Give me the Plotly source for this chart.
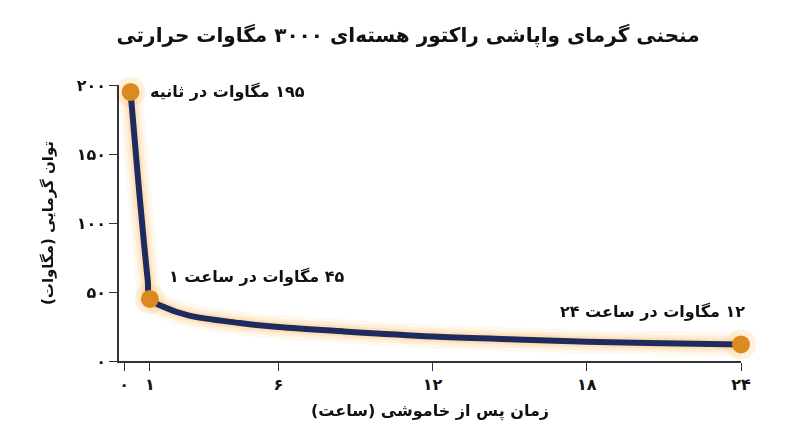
import plotly.graph_objects as go

# hours after shutdown vs decay heat (MW)
hours = [0.25, 0.55, 0.8, 0.92, 1, 1.5, 2.5, 4.5, 6, 8.5, 12, 15, 18, 21, 24]
power = [195, 130, 80, 58, 45, 39.5, 33, 27.5, 24.6, 21.5, 17.8, 15.8, 14, 12.9, 12]

# the three labelled points
mark_hours = [0.25, 1, 24]
mark_power = [195, 45, 12]
mark_labels = ["۱۹۵ مگاوات در ثانیه", "۴۵ مگاوات در ساعت ۱", "۱۲ مگاوات در ساعت ۲۴"]

x_ticks = [0, 1, 6, 12, 18, 24]
x_tick_text = ["۰", "۱", "۶", "۱۲", "۱۸", "۲۴"]
y_ticks = [0, 50, 100, 150, 200]
y_tick_text = ["۰", "۵۰", "۱۰۰", "۱۵۰", "۲۰۰"]

title_text = "منحنی گرمای واپاشی راکتور هسته‌ای ۳۰۰۰ مگاوات حرارتی"
x_title = "زمان پس از خاموشی (ساعت)"
y_title = "توان گرمایی (مگاوات)"

FONT = "DejaVu Sans"
NAVY = "#1d2b5e"
ORANGE = "#db8a22"


def rtl(s):
    # right-to-left embedding so numbers and brackets land where they should
    return "\u202b" + s + "\u202c"


fig = go.Figure()

# soft orange glow under the curve
for w, op in [(24, 0.08), (17, 0.12), (11, 0.22)]:
    fig.add_trace(go.Scatter(x=hours, y=power, mode="lines", line_shape="spline",
                             line=dict(color="#ffb347", width=w), opacity=op,
                             hoverinfo="skip", showlegend=False, cliponaxis=False))
fig.add_trace(go.Scatter(x=mark_hours, y=mark_power, mode="markers",
                         marker=dict(color="#ffc46b", size=30), opacity=0.25,
                         hoverinfo="skip", showlegend=False, cliponaxis=False))

fig.add_trace(go.Scatter(x=hours, y=power, mode="lines", line_shape="spline",
                         line=dict(color=NAVY, width=6), showlegend=False,
                         cliponaxis=False))
fig.add_trace(go.Scatter(x=mark_hours, y=mark_power, mode="markers",
                         marker=dict(color=ORANGE, size=18), showlegend=False,
                         cliponaxis=False))

# labels next to the points
shifts = [(17, 0, "left"), (17, 22, "left"), (6, 33, "right")]
for i in range(len(mark_labels)):
    fig.add_annotation(x=mark_hours[i], y=mark_power[i], text=rtl(mark_labels[i]),
                       showarrow=False, xanchor=shifts[i][2], yanchor="middle",
                       xshift=shifts[i][0], yshift=shifts[i][1],
                       font=dict(family=FONT, size=16, color="#111111", weight="bold"))

# page body has an 8px margin, so the margins are offset by that
fig.update_layout(
    width=800,
    height=447,
    paper_bgcolor="white",
    plot_bgcolor="white",
    margin=dict(l=111, r=67, t=77, b=94),
    title=dict(text=rtl(title_text), x=0.5, xanchor="center", y=0.94, yanchor="middle",
               font=dict(family=FONT, size=20, color="#111111", weight="bold")),
)

fig.update_xaxes(range=[-0.2, 24], tickvals=x_ticks, ticktext=x_tick_text,
                 showgrid=False, zeroline=False, showline=True, linecolor="#333333",
                 linewidth=1.5, ticks="outside", ticklen=8, tickcolor="#333333",
                 tickfont=dict(family=FONT, size=16, color="#111111", weight="bold"),
                 title=dict(text=rtl(x_title), standoff=12,
                            font=dict(family=FONT, size=16, color="#111111", weight="bold")))
fig.update_yaxes(range=[0, 200], tickvals=y_ticks, ticktext=y_tick_text,
                 showgrid=False, zeroline=False, showline=True, linecolor="#333333",
                 linewidth=1.5, ticks="outside", ticklen=8, tickcolor="#333333",
                 tickfont=dict(family=FONT, size=16, color="#111111", weight="bold"),
                 title=dict(text=rtl(y_title), standoff=20,
                            font=dict(family=FONT, size=15, color="#111111", weight="bold")))

fig.write_html("out.html")
